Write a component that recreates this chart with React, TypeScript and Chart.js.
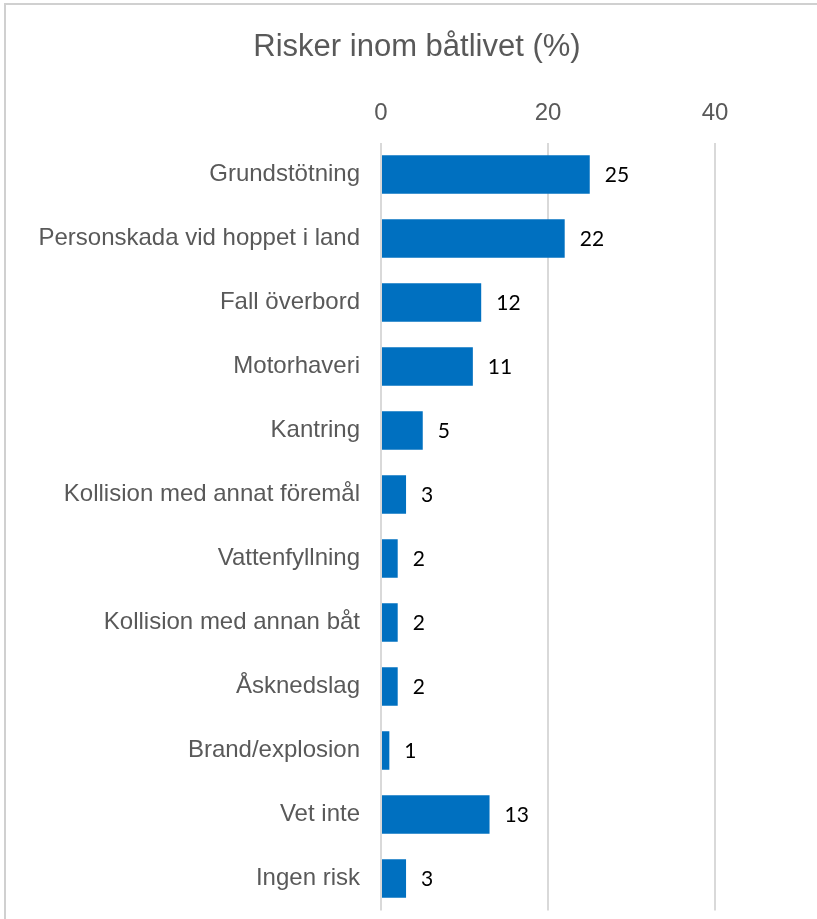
import React, { useEffect, useRef } from "react";
import { Chart, registerables } from "chart.js";

Chart.register(...registerables);

const categories = [
  "Grundstötning",
  "Personskada vid hoppet i land",
  "Fall överbord",
  "Motorhaveri",
  "Kantring",
  "Kollision med annat föremål",
  "Vattenfyllning",
  "Kollision med annan båt",
  "Åsknedslag",
  "Brand/explosion",
  "Vet inte",
  "Ingen risk",
];
const values = [25, 22, 12, 11, 5, 3, 2, 2, 2, 1, 13, 3];
const tickValues = [0, 20, 40];
const axisMax = 50;
const titleText = "Risker inom båtlivet (%)";

const borderPlugin = {
  id: "outerBorder",
  beforeDraw(chart: any) {
    const ctx = chart.ctx;
    ctx.save();
    ctx.strokeStyle = "#d0d0d0";
    ctx.lineWidth = 2;
    ctx.beginPath();
    ctx.moveTo(5, chart.height);
    ctx.lineTo(5, 4);
    ctx.lineTo(chart.width, 4);
    ctx.stroke();
    ctx.fillStyle = "#595959";
    ctx.font = "31px 'Liberation Sans', Arial, sans-serif";
    ctx.textAlign = "center";
    ctx.textBaseline = "middle";
    ctx.fillText(titleText, 417, 47);
    ctx.restore();
  },
};

const valueLabelPlugin = {
  id: "valueLabels",
  afterDatasetsDraw(chart: any) {
    const ctx = chart.ctx;
    const meta = chart.getDatasetMeta(0);
    ctx.save();
    ctx.fillStyle = "#000000";
    ctx.font = "21px Lato, 'Open Sans', sans-serif";
    ctx.textAlign = "left";
    ctx.textBaseline = "middle";
    meta.data.forEach((bar: any, i: number) => {
      ctx.fillText(String(values[i]), bar.x + 15, bar.y + 1);
    });
    ctx.restore();
  },
};

export default function App() {
  const ref = useRef<HTMLCanvasElement | null>(null);
  useEffect(() => {
    if (!ref.current) return;
    const chart = new Chart(ref.current, {
      type: "bar",
      data: {
        labels: categories,
        datasets: [
          {
            data: values,
            backgroundColor: "#0070C0",
            borderWidth: 0,
            barPercentage: 0.6,
            categoryPercentage: 1,
          },
        ],
      },
      options: {
        indexAxis: "y",
        animation: false,
        responsive: false,
        maintainAspectRatio: false,
        layout: { padding: { left: 0, right: 18.5, top: 75, bottom: 8.5 } },
        plugins: {
          legend: { display: false },
          tooltip: { enabled: false },
          title: { display: false },
        },
        scales: {
          x: {
            position: "top",
            min: 0,
            max: axisMax,
            afterBuildTicks: (scale: any) => {
              scale.ticks = tickValues.map((v) => ({ value: v }));
            },
            afterFit: (scale: any) => {
              scale.height = 67.5;
              scale.paddingLeft = 0;
              scale.paddingRight = 0;
            },
            grid: { color: "#d9d9d9", lineWidth: 2, drawTicks: false },
            border: { display: false },
            ticks: {
              color: "#595959",
              padding: 15,
              font: { family: "'Liberation Sans', Arial, sans-serif", size: 24 },
            },
          },
          y: {
            afterFit: (scale: any) => {
              scale.width = 381;
              scale.paddingTop = 0;
              scale.paddingBottom = 0;
            },
            grid: { display: false, drawTicks: false },
            border: { display: false },
            ticks: {
              color: "#595959",
              padding: 21,
              autoSkip: false,
              font: { family: "'Liberation Sans', Arial, sans-serif", size: 24 },
            },
          },
        },
      },
      plugins: [borderPlugin, valueLabelPlugin],
    });
    return () => chart.destroy();
  }, []);
  return (
    <div style={{ position: "fixed", left: 0, top: 0, width: 817, height: 919, background: "#ffffff" }}>
      <canvas ref={ref} width={817} height={919} style={{ display: "block" }} />
    </div>
  );
}
